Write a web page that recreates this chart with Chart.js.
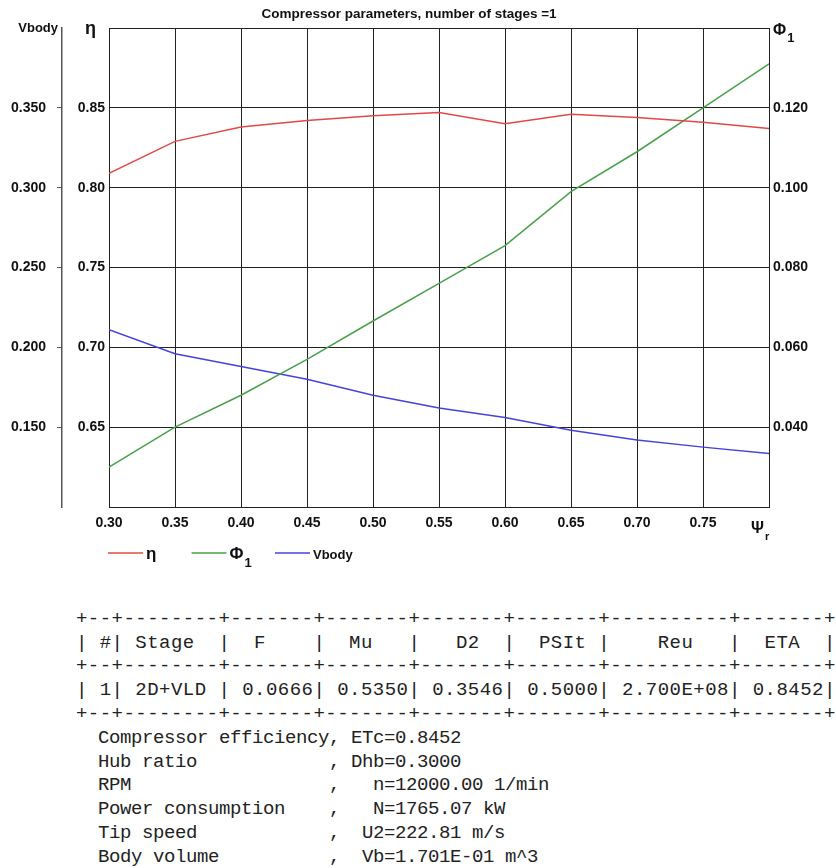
<!DOCTYPE html>
<html>
<head>
<meta charset="utf-8">
<script src="https://cdn.jsdelivr.net/npm/chart.js@4.4.1/dist/chart.umd.min.js"></script>
<style>
  html, body { margin: 0; padding: 0; background: #fff; }
  #wrap { position: relative; width: 836px; height: 868px; }
  #chart { position: absolute; left: 0; top: 0; }
  pre {
    position: absolute; left: 76px; margin: 0;
    font-family: "Liberation Mono", "DejaVu Sans Mono", monospace;
    font-size: 19px; line-height: 23.7px; color: #222;
  }
  #tbl { top: 608px; letter-spacing: 0.47px; }
  #res { top: 727px; letter-spacing: -0.4px; }
</style>
</head>
<body>
<div id="wrap">
<canvas id="chart" width="836" height="590"></canvas>
<pre id="tbl">+--+--------+-------+-------+-------+-------+----------+-------+
| #| Stage  |  F    |  Mu   |   D2  |  PSIt |    Reu   |  ETA  |
+--+--------+-------+-------+-------+-------+----------+-------+
| 1| 2D+VLD | 0.0666| 0.5350| 0.3546| 0.5000| 2.700E+08| 0.8452|
+--+--------+-------+-------+-------+-------+----------+-------+</pre>
<pre id="res">  Compressor efficiency, ETc=0.8452
  Hub ratio            , Dhb=0.3000
  RPM                  ,   n=12000.00 1/min
  Power consumption    ,   N=1765.07 kW
  Tip speed            ,  U2=222.81 m/s
  Body volume          ,  Vb=1.701E-01 m^3</pre>
</div>
<script>
// relative head coefficient, psi_t
var psi   = [0.30, 0.35, 0.40, 0.45, 0.50, 0.55, 0.60, 0.65, 0.70, 0.75, 0.80];
// efficiency
var eta   = [0.809, 0.829, 0.838, 0.842, 0.845, 0.847, 0.840, 0.846, 0.844, 0.841, 0.837];
// flow coefficient
var phi1  = [0.030, 0.040, 0.048, 0.057, 0.0666, 0.076, 0.0855, 0.099, 0.109, 0.120, 0.131];
// body volume, m^3
var vbody = [0.211, 0.196, 0.188, 0.180, 0.170, 0.162, 0.156, 0.148, 0.142, 0.1375, 0.1335];

var seriesNames = ['η', 'Φ', 'Vbody'];
var seriesSubs  = ['', '1', ''];
var seriesColors = ['#e34848', '#48a048', '#4444dc'];

var chartTitle = 'Compressor parameters, number of stages =1';

function pts(ys) {
    return psi.map(function(x, i) { return { x: x, y: ys[i] }; });
}

function between(v, lo, hi) {
    return v > lo + 1e-6 && v < hi - 1e-6;
}

var BOLD = '"Liberation Sans", Arial, sans-serif';

function drawSub(ctx, text, sub, x, y, size, subSize) {
    ctx.font = 'bold ' + size + 'px ' + BOLD;
    ctx.fillText(text, x, y);
    var w = ctx.measureText(text).width;
    if (sub) {
        ctx.font = 'bold ' + subSize + 'px ' + BOLD;
        ctx.fillText(sub, x + w + 1, y + Math.round(size * 0.45));
        w += 1 + ctx.measureText(sub).width;
    }
    return w;
}

var decorations = {
    id: 'decorations',
    afterDraw: function(chart) {
        var ctx = chart.ctx,
            area = chart.chartArea;
        ctx.save();
        ctx.fillStyle = '#111';
        ctx.textBaseline = 'alphabetic';

        // title
        ctx.textAlign = 'center';
        ctx.font = 'bold 13.5px ' + BOLD;
        ctx.fillText(chartTitle, 409, 18);

        // axis names
        ctx.textAlign = 'right';
        ctx.font = 'bold 13px ' + BOLD;
        ctx.fillText('Vbody', 58, 32);
        ctx.textAlign = 'left';
        drawSub(ctx, 'η', '', 85, 34, 18, 12);
        drawSub(ctx, 'Φ', '1', area.right + 4, 35, 16, 13);
        drawSub(ctx, 'Ψ', 'r', area.right - 18, 533, 16, 11);

        // legend
        var x0 = 108, y0 = 553;
        chart.data.datasets.forEach(function(ds, i) {
            var x = x0 + i * 83.5;
            ctx.strokeStyle = ds.borderColor;
            ctx.lineWidth = 1.5;
            ctx.beginPath();
            ctx.moveTo(x, y0);
            ctx.lineTo(x + 35, y0);
            ctx.stroke();
            ctx.fillStyle = '#111';
            var big = seriesNames[i].length > 1 ? 13 : 17;
            drawSub(ctx, seriesNames[i], seriesSubs[i], x + 38, y0 + 6, big, 13);
        });
        ctx.restore();
    }
};

var tickFont = { family: BOLD, size: 14, weight: 'bold' };

new Chart(document.getElementById('chart').getContext('2d'), {
    type: 'line',
    data: {
        datasets: [{
            label: 'η',
            data: pts(eta),
            yAxisID: 'yE',
            borderColor: seriesColors[0],
            backgroundColor: seriesColors[0],
            borderWidth: 1.5,
            pointRadius: 0,
            tension: 0
        }, {
            label: 'Φ1',
            data: pts(phi1),
            yAxisID: 'yP',
            borderColor: seriesColors[1],
            backgroundColor: seriesColors[1],
            borderWidth: 1.5,
            pointRadius: 0,
            tension: 0
        }, {
            label: 'Vbody',
            data: pts(vbody),
            yAxisID: 'yV',
            borderColor: seriesColors[2],
            backgroundColor: seriesColors[2],
            borderWidth: 1.5,
            pointRadius: 0,
            tension: 0
        }]
    },
    options: {
        responsive: false,
        animation: false,
        layout: { padding: { top: 28, bottom: 50, left: 0, right: 0 } },
        plugins: {
            legend: { display: false },
            title: { display: false },
            tooltip: { enabled: false }
        },
        scales: {
            x: {
                type: 'linear',
                min: 0.30, max: 0.80,
                afterFit: function(s) { s.height = 33; },
                grid: { color: '#222', lineWidth: 1, drawTicks: false },
                border: { color: '#222' },
                ticks: {
                    stepSize: 0.05, padding: 8, color: '#111', font: tickFont,
                    maxRotation: 0,
                    callback: function(v) { return v > 0.799 ? '' : v.toFixed(2); }
                }
            },
            yE: {
                position: 'left',
                weight: 0,
                min: 0.60, max: 0.90,
                afterFit: function(s) { s.width = 47; },
                grid: { color: '#222', lineWidth: 1, drawTicks: false },
                border: { color: '#222' },
                ticks: {
                    stepSize: 0.05, padding: 4, color: '#111', font: tickFont,
                    callback: function(v) { return between(v, 0.60, 0.90) ? v.toFixed(2) : ''; }
                }
            },
            yV: {
                position: 'left',
                weight: 1,
                min: 0.10, max: 0.40,
                afterFit: function(s) { s.width = 62; },
                grid: {
                    drawOnChartArea: false, drawTicks: true, tickLength: 5,
                    tickColor: function(c) { return c.tick && between(c.tick.value, 0.10, 0.40) ? '#555' : 'rgba(0,0,0,0)'; }
                },
                border: { display: true, color: '#555', width: 1.5 },
                ticks: {
                    stepSize: 0.05, padding: 11, color: '#111', font: tickFont,
                    callback: function(v) { return between(v, 0.10, 0.40) ? v.toFixed(3) : ''; }
                }
            },
            yP: {
                position: 'right',
                min: 0.02, max: 0.14,
                afterFit: function(s) { s.width = 67; },
                grid: { drawOnChartArea: false, drawTicks: false },
                border: { display: false },
                ticks: {
                    stepSize: 0.02, padding: 4, color: '#111', font: tickFont,
                    callback: function(v) { return between(v, 0.02, 0.14) ? v.toFixed(3) : ''; }
                }
            }
        }
    },
    plugins: [decorations]
});
</script>
</body>
</html>
